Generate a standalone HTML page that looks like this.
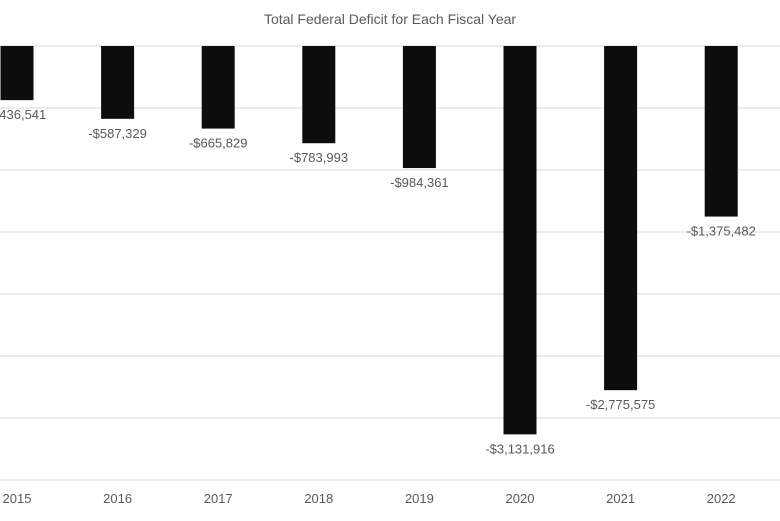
<!DOCTYPE html>
<html><head><meta charset="utf-8"><style>
body{margin:0;background:#fff;font-family:"Liberation Sans",sans-serif}
svg text{font-family:"Liberation Sans",sans-serif;fill:#595959}
</style></head><body>
<svg width="780" height="516" id="c">
<text x="390" y="24" text-anchor="middle" font-size="14">Total Federal Deficit for Each Fiscal Year</text>
<g id="grid"></g><g id="bars"></g><g id="labels"></g><g id="xaxis"></g>
</svg>
<script>
const years=["2015","2016","2017","2018","2019","2020","2021","2022"];
const deficits=[-436541,-587329,-665829,-783993,-984361,-3131916,-2775575,-1375482];
const gridTicks=[0,-500000,-1000000,-1500000,-2000000,-2500000,-3000000,-3500000];
const NS="http://www.w3.org/2000/svg";
const y0=46,pxPer=388/3131916*1;
function y(v){return y0-v*124/1000000;}
function x(i){return 17+i*100.6;}
const g=document.getElementById('grid'),b=document.getElementById('bars'),l=document.getElementById('labels'),xa=document.getElementById('xaxis');
function mk(t,a,p){const e=document.createElementNS(NS,t);for(const k in a)e.setAttribute(k,a[k]);p.appendChild(e);return e;}
gridTicks.forEach(t=>{const e=mk('line',{x1:0,x2:780,y1:y(t),y2:y(t),stroke:'#d9d9d9','stroke-width':1},g);

});
function fmt(v){return '-$'+Math.abs(v).toLocaleString('en-US');}
deficits.forEach((v,i)=>{
const r=mk('rect',{x:x(i)-16.5,y:y0,width:33,height:y(v)-y0,fill:'#0d0d0d'},b);


const t=mk('text',{x:x(i),y:y(v)+19,'text-anchor':'middle','font-size':13},l);t.textContent=fmt(v);


const a=mk('text',{x:x(i),y:503,'text-anchor':'middle','font-size':13},xa);a.textContent=years[i];


});
</script>
</body></html>
